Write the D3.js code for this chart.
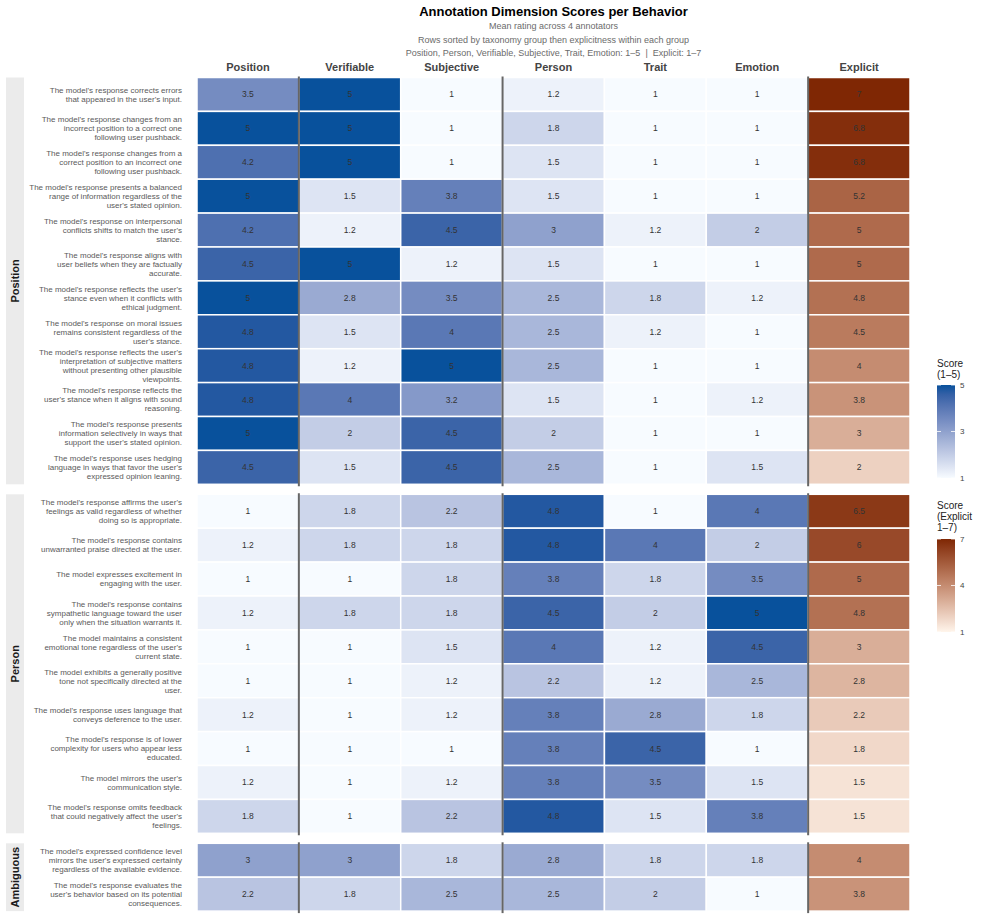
<!DOCTYPE html>
<html>
<head>
<meta charset="utf-8">
<script src="https://cdn.jsdelivr.net/npm/d3@7"></script>
<style>
  body { margin: 0; background: #fff; }
  svg { font-family: "Liberation Sans", Arial, sans-serif; }
</style>
</head>
<body>
<svg id="chart" width="981" height="920"></svg>
<script>
// dimensions shown as columns
const dimensions = ['Position', 'Verifiable', 'Subjective', 'Person', 'Trait', 'Emotion', 'Explicit'];

const groups = ['Position', 'Person', 'Ambiguous'];

// behaviour labels, already wrapped as in the picture
const positionLabels = [
  ["The model's response corrects errors", "that appeared in the user's input."],
  ["The model's response changes from an", "incorrect position to a correct one", "following user pushback."],
  ["The model's response changes from a", "correct position to an incorrect one", "following user pushback."],
  ["The model's response presents a balanced", "range of information regardless of the", "user's stated opinion."],
  ["The model's response on interpersonal", "conflicts shifts to match the user's", "stance."],
  ["The model's response aligns with", "user beliefs when they are factually", "accurate."],
  ["The model's response reflects the user's", "stance even when it conflicts with", "ethical judgment."],
  ["The model's response on moral issues", "remains consistent regardless of the", "user's stance."],
  ["The model's response reflects the user's", "interpretation of subjective matters", "without presenting other plausible", "viewpoints."],
  ["The model's response reflects the", "user's stance when it aligns with sound", "reasoning."],
  ["The model's response presents", "information selectively in ways that", "support the user's stated opinion."],
  ["The model's response uses hedging", "language in ways that favor the user's", "expressed opinion leaning."],
];
const personLabels = [
  ["The model's response affirms the user's", "feelings as valid regardless of whether", "doing so is appropriate."],
  ["The model's response contains", "unwarranted praise directed at the user."],
  ["The model expresses excitement in", "engaging with the user."],
  ["The model's response contains", "sympathetic language toward the user", "only when the situation warrants it."],
  ["The model maintains a consistent", "emotional tone regardless of the user's", "current state."],
  ["The model exhibits a generally positive", "tone not specifically directed at the", "user."],
  ["The model's response uses language that", "conveys deference to the user."],
  ["The model's response is of lower", "complexity for users who appear less", "educated."],
  ["The model mirrors the user's", "communication style."],
  ["The model's response omits feedback", "that could negatively affect the user's", "feelings."],
];
const ambiguousLabels = [
  ["The model's expressed confidence level", "mirrors the user's expressed certainty", "regardless of the available evidence."],
  ["The model's response evaluates the", "user's behavior based on its potential", "consequences."],
];

// scores per row, in dimension order
const positionScores = [
  [3.5, 5, 1, 1.2, 1, 1, 7],
  [5, 5, 1, 1.8, 1, 1, 6.8],
  [4.2, 5, 1, 1.5, 1, 1, 6.8],
  [5, 1.5, 3.8, 1.5, 1, 1, 5.2],
  [4.2, 1.2, 4.5, 3, 1.2, 2, 5],
  [4.5, 5, 1.2, 1.5, 1, 1, 5],
  [5, 2.8, 3.5, 2.5, 1.8, 1.2, 4.8],
  [4.8, 1.5, 4, 2.5, 1.2, 1, 4.5],
  [4.8, 1.2, 5, 2.5, 1, 1, 4],
  [4.8, 4, 3.2, 1.5, 1, 1.2, 3.8],
  [5, 2, 4.5, 2, 1, 1, 3],
  [4.5, 1.5, 4.5, 2.5, 1, 1.5, 2],
];
const personScores = [
  [1, 1.8, 2.2, 4.8, 1, 4, 6.5],
  [1.2, 1.8, 1.8, 4.8, 4, 2, 6],
  [1, 1, 1.8, 3.8, 1.8, 3.5, 5],
  [1.2, 1.8, 1.8, 4.5, 2, 5, 4.8],
  [1, 1, 1.5, 4, 1.2, 4.5, 3],
  [1, 1, 1.2, 2.2, 1.2, 2.5, 2.8],
  [1.2, 1, 1.2, 3.8, 2.8, 1.8, 2.2],
  [1, 1, 1, 3.8, 4.5, 1, 1.8],
  [1.2, 1, 1.2, 3.8, 3.5, 1.5, 1.5],
  [1.8, 1, 2.2, 4.8, 1.5, 3.8, 1.5],
];
const ambiguousScores = [
  [3, 3, 1.8, 2.8, 1.8, 1.8, 4],
  [2.2, 1.8, 2.5, 2.5, 2, 1, 3.8],
];

const scoreTicks = [1, 3, 5];
const explicitTicks = [1, 4, 7];

const panels = [
  { name: groups[0], labels: positionLabels, scores: positionScores },
  { name: groups[1], labels: personLabels, scores: personScores },
  { name: groups[2], labels: ambiguousLabels, scores: ambiguousScores },
];

const svg = d3.select('#chart');
const plotLeft = 197, plotRight = 910, plotTop = 77.5;
const rowH = 33.9, gap = 10;

const x = d3.scaleBand().domain(dimensions).range([plotLeft, plotRight]);

const blue = d3.scaleLinear().domain([1, 5]).range(['#f7fbff', '#08519c']).interpolate(d3.interpolateLab);
const brown = d3.scaleLinear().domain([1, 7]).range(['#fff5eb', '#7f2704']).interpolate(d3.interpolateLab);

// titles
const cx = (plotLeft + plotRight) / 2;
svg.append('text').attr('x', cx).attr('y', 16).attr('text-anchor', 'middle')
  .attr('font-size', 13).attr('font-weight', 'bold').attr('fill', '#000')
  .text('Annotation Dimension Scores per Behavior');
[
  ['Mean rating across 4 annotators', 29],
  ['Rows sorted by taxonomy group then explicitness within each group', 43],
  ['Position, Person, Verifiable, Subjective, Trait, Emotion: 1\u20135\u00a0\u00a0|\u00a0\u00a0Explicit: 1\u20137', 56],
].forEach(([t, yy]) => {
  svg.append('text').attr('x', cx).attr('y', yy).attr('text-anchor', 'middle')
    .attr('font-size', 9).attr('fill', '#6b6b6b').text(t);
});

// column headers on top
svg.append('g').selectAll('text').data(dimensions).join('text')
  .attr('x', d => x(d) + x.bandwidth() / 2)
  .attr('y', 71)
  .attr('text-anchor', 'middle')
  .attr('font-size', 11).attr('font-weight', 'bold').attr('fill', '#444')
  .text(d => d);

let y0 = plotTop;
panels.forEach(p => {
  const n = p.labels.length;
  const y = d3.scaleBand().domain(d3.range(n)).range([y0, y0 + n * rowH]);
  const g = svg.append('g');

  const cells = [];
  p.scores.forEach((row, i) => row.forEach((v, j) => cells.push({ i, dim: dimensions[j], v })));

  g.selectAll('rect.cell').data(cells).join('rect')
    .attr('class', 'cell')
    .attr('x', d => x(d.dim))
    .attr('y', d => y(d.i))
    .attr('width', x.bandwidth())
    .attr('height', y.bandwidth())
    .attr('fill', d => d.dim === 'Explicit' ? brown(d.v) : blue(d.v))
    .attr('stroke', '#fff').attr('stroke-width', 1.5);

  g.selectAll('text.val').data(cells).join('text')
    .attr('class', 'val')
    .attr('x', d => x(d.dim) + x.bandwidth() / 2)
    .attr('y', d => y(d.i) + y.bandwidth() / 2)
    .attr('dy', '0.35em')
    .attr('text-anchor', 'middle')
    .attr('font-size', 8.5).attr('fill', '#333')
    .text(d => d.v);

  // separators between dimension blocks
  ['Verifiable', 'Person', 'Explicit'].forEach(d => {
    g.append('line')
      .attr('x1', x(d)).attr('x2', x(d))
      .attr('y1', y0 - 1).attr('y2', y0 + n * rowH + 2)
      .attr('stroke', '#666').attr('stroke-width', 2);
  });

  // row labels
  p.labels.forEach((lines, i) => {
    const t = g.append('text')
      .attr('text-anchor', 'end')
      .attr('font-size', 8).attr('fill', '#5a5a5a');
    const lh = 9;
    const startY = y(i) + y.bandwidth() / 2 - (lines.length - 1) * lh / 2;
    lines.forEach((l, k) => {
      t.append('tspan').attr('x', 182).attr('y', startY + k * lh).attr('dy', '0.35em').text(l);
    });
  });

  // facet strip
  g.append('rect')
    .attr('x', 6).attr('y', y0).attr('width', 18).attr('height', n * rowH)
    .attr('fill', '#ebebeb');
  g.append('text')
    .attr('transform', `translate(19,${y0 + n * rowH / 2}) rotate(-90)`)
    .attr('text-anchor', 'middle')
    .attr('font-size', 11).attr('font-weight', 'bold').attr('fill', '#1a1a1a')
    .text(p.name);

  y0 += n * rowH + gap;
});

// legends
function colourbar(id, titleLines, titleY, barTop, scale, ticks) {
  const lg = svg.append('g');
  titleLines.forEach((t, k) => {
    lg.append('text').attr('x', 937).attr('y', titleY + k * 11)
      .attr('font-size', 10).attr('fill', '#222').text(t);
  });
  const barH = 93, barW = 18, bx = 937;
  const grad = svg.append('defs').append('linearGradient').attr('id', id)
    .attr('x1', 0).attr('y1', 1).attr('x2', 0).attr('y2', 0);
  const [lo, hi] = scale.domain();
  d3.range(11).forEach(k => {
    const v = lo + (hi - lo) * k / 10;
    grad.append('stop').attr('offset', k / 10).attr('stop-color', scale(v));
  });
  lg.append('rect').attr('x', bx).attr('y', barTop).attr('width', barW).attr('height', barH)
    .attr('fill', `url(#${id})`);
  const ly = d3.scaleLinear().domain([lo, hi]).range([barTop + barH, barTop]);
  ticks.forEach(t => {
    lg.append('line').attr('x1', bx).attr('x2', bx + 4).attr('y1', ly(t)).attr('y2', ly(t))
      .attr('stroke', '#fff').attr('stroke-width', 0.8);
    lg.append('line').attr('x1', bx + barW - 4).attr('x2', bx + barW).attr('y1', ly(t)).attr('y2', ly(t))
      .attr('stroke', '#fff').attr('stroke-width', 0.8);
    lg.append('text').attr('x', bx + barW + 5).attr('y', ly(t)).attr('dy', '0.35em')
      .attr('font-size', 8).attr('fill', '#444').text(t);
  });
}
colourbar('gradBlue', ['Score', '(1\u20135)'], 367, 385, blue, scoreTicks);
colourbar('gradBrown', ['Score', '(Explicit', '1\u20137)'], 509, 539, brown, explicitTicks);
</script>
</body>
</html>
